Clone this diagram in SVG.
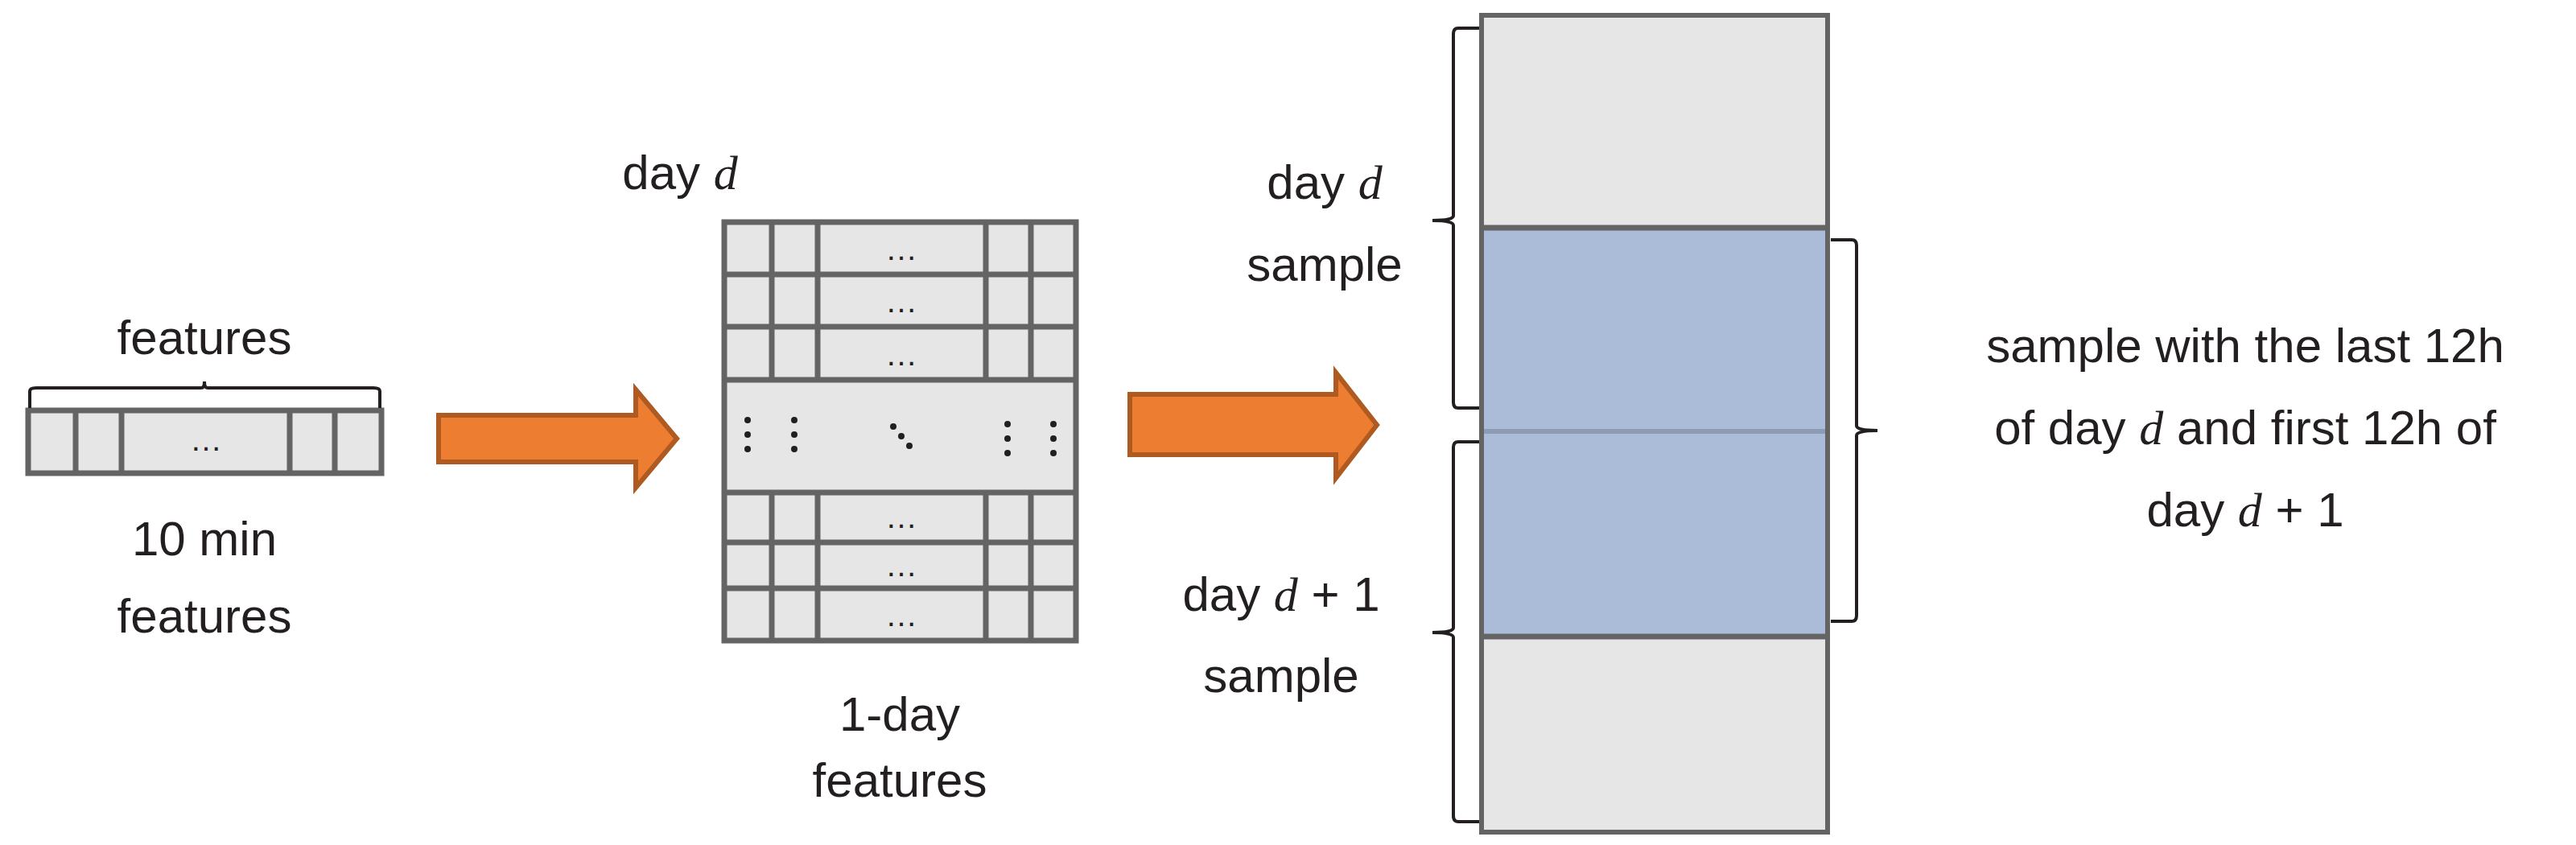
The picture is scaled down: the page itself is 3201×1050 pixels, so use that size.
<svg xmlns="http://www.w3.org/2000/svg" width="3201" height="1050" viewBox="0 0 3201 1050">
<style>
.t{font-family:"Liberation Sans",Arial,sans-serif;font-size:60px;fill:#231f20;text-anchor:middle}
.m{font-family:"Liberation Serif",serif;font-style:italic}
.cell{fill:#e6e6e6;stroke:#646464;stroke-width:7}
.ln{stroke:#646464;stroke-width:7;fill:none}
.br{fill:none;stroke:#231f20;stroke-width:4}
.arr{fill:#ed7d31;stroke:#ae5a21;stroke-width:6}
.dots{font-family:"Liberation Sans",sans-serif;font-size:40px;fill:#231f20;text-anchor:middle}
.dot{fill:#231f20}
</style>
<rect width="3201" height="1050" fill="#fff"/>
<g id="row10min">
<rect class="cell" x="35" y="510" width="439" height="78"/>
<path class="ln" d="M94 510V588M151 510V588M360 510V588M416 510V588"/>
<text class="dots" x="256" y="560">…</text>
<path class="br" d="M37 507V486Q37 482 45 482H250Q254 482 254 474Q254 482 258 482H464Q472 482 472 486V507"/>
<text class="t" x="254" y="440">features</text>
<text class="t" x="254" y="690">10 min</text>
<text class="t" x="254" y="786">features</text>
</g>
<g id="grid">
<rect class="cell" x="900" y="276" width="437" height="520"/>
<path class="ln" d="M900 341H1337M900 406H1337M900 472H1337M900 612H1337M900 674H1337M900 731H1337"/>
<path class="ln" d="M959 276V472M1016 276V472M1225 276V472M1281 276V472M959 612V796M1016 612V796M1225 612V796M1281 612V796"/>
<g class="dots">
<text x="1120" y="323">…</text><text x="1120" y="388">…</text><text x="1120" y="454">…</text>
<text x="1120" y="656">…</text><text x="1120" y="716">…</text><text x="1120" y="778">…</text>
</g>
<g class="dot">
<circle cx="929" cy="522" r="4"/><circle cx="929" cy="540" r="4"/><circle cx="929" cy="558" r="4"/>
<circle cx="987" cy="522" r="4"/><circle cx="987" cy="540" r="4"/><circle cx="987" cy="558" r="4"/>
<circle cx="1110" cy="530" r="4"/><circle cx="1120" cy="542" r="4"/><circle cx="1130" cy="554" r="4"/>
<circle cx="1252" cy="527" r="4"/><circle cx="1252" cy="545" r="4"/><circle cx="1252" cy="563" r="4"/>
<circle cx="1309" cy="527" r="4"/><circle cx="1309" cy="545" r="4"/><circle cx="1309" cy="563" r="4"/>
</g>
<text class="t" x="845" y="235">day <tspan class="m">d</tspan></text>
<text class="t" x="1118" y="908">1-day</text>
<text class="t" x="1118" y="990">features</text>
</g>
<g id="column">
<rect x="1841" y="19" width="430" height="1015" fill="#e6e6e6" stroke="#646464" stroke-width="6"/>
<rect x="1844" y="283" width="424" height="508" fill="#abbcd9"/>
<path d="M1844 283H2268M1844 791H2268" stroke="#646464" stroke-width="7"/>
<path d="M1844 536H2268" stroke="#8e9bb5" stroke-width="6"/>
<text class="t" x="1646" y="247">day <tspan class="m">d</tspan></text>
<text class="t" x="1646" y="349">sample</text>
<text class="t" x="1592" y="759">day <tspan class="m">d</tspan> + 1</text>
<text class="t" x="1592" y="860">sample</text>
<text class="t" x="2790" y="450">sample with the last 12h</text>
<text class="t" x="2790" y="552">of day <tspan class="m">d</tspan> and first 12h of</text>
<text class="t" x="2790" y="654">day <tspan class="m">d</tspan> + 1</text>
</g>
<g id="connectors">
<path class="arr" d="M545 516H790V484L841 545L790 606V574H545Z"/>
<path class="arr" d="M1404 490H1660V463L1711 528L1660 594V565H1404Z"/>
<path class="br" d="M1838 35H1812Q1806 35 1806 42V268Q1806 274 1780 274Q1806 274 1806 280V500Q1806 507 1812 507H1838"/>
<path class="br" d="M1838 549H1812Q1806 549 1806 556V780Q1806 786 1780 786Q1806 786 1806 792V1014Q1806 1021 1812 1021H1838"/>
<path class="br" d="M2275 298H2301Q2307 298 2307 305V529Q2307 535 2333 535Q2307 535 2307 541V765Q2307 772 2301 772H2275"/>
</g>
</svg>
